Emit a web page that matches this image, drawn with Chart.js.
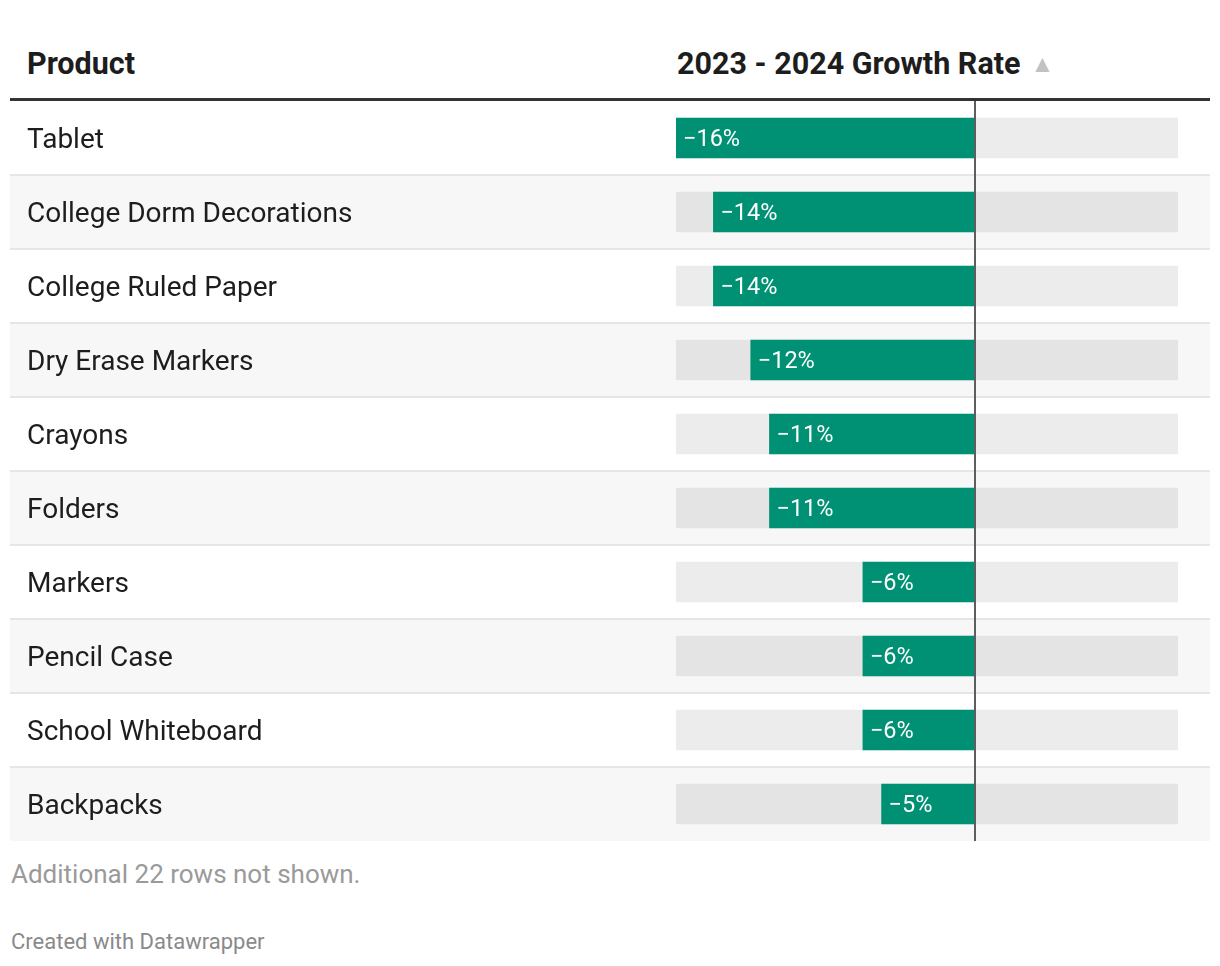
<!DOCTYPE html>
<html>
<head>
<meta charset="utf-8">
<script src="https://cdn.jsdelivr.net/npm/chart.js@4.4.1/dist/chart.umd.min.js"></script>
<style>
  body { margin: 0; background: #fff; font-family: Roboto, "Noto Sans", sans-serif; }
  .abs { position: absolute; white-space: nowrap; }
  .head { font-weight: 700; font-size: 30.5px; line-height: 30px; color: #1d1d1d; }
  .arrow { font-size: 24px; color: #c2c2c2; margin-left: 10px; vertical-align: 2px; font-weight: 400; }
  #rule { position: absolute; left: 10px; top: 98px; width: 1200px; height: 3px; background: #333; }
  #wrap { position: absolute; left: 10px; top: 101px; width: 1200px; height: 740px; }
  .note { font-size: 26px; line-height: 26px; color: #9a9a9a; }
  .credit { font-size: 22px; line-height: 22px; color: #8a8a8a; }
</style>
</head>
<body>
<div class="abs head" style="left:27px; top:49px;">Product</div>
<div class="abs head" style="left:677px; top:49px;">2023 - 2024 Growth Rate<span class="arrow">▲</span></div>
<div id="rule"></div>
<div id="wrap"><canvas id="growthChart"></canvas></div>
<div class="abs note" style="left:11px; top:861px;">Additional 22 rows not shown.</div>
<div class="abs credit" style="left:11px; top:931px;">Created with Datawrapper</div>

<script>
// rows as shown in the table (top to bottom)
var products = ["Tablet", "College Dorm Decorations", "College Ruled Paper", "Dry Erase Markers",
                "Crayons", "Folders", "Markers", "Pencil Case", "School Whiteboard", "Backpacks"];
var growthRate = [-16, -14, -14, -12, -11, -11, -6, -6, -6, -5];

// range of the grey background track
var AXIS_MIN = -16;
var AXIS_MAX = 10.86;

var trackData = products.map(function () { return [AXIS_MIN, AXIS_MAX]; });

function fmt(v) {
  return (v < 0 ? '\u2212' : '') + Math.abs(v) + '%';
}

// striped rows + separators (under the axis labels), zero line and value labels
var tablePlugin = {
  id: 'tableLook',
  beforeDraw: function (chart) {
    var ctx = chart.ctx, y = chart.scales.y;
    var rowH = y.getPixelForValue(1) - y.getPixelForValue(0);
    ctx.save();
    for (var i = 0; i < products.length; i++) {
      var cy = y.getPixelForValue(i);
      if (i % 2 === 1) {
        ctx.fillStyle = '#f7f7f7';
        ctx.fillRect(0, cy - rowH / 2, chart.width, rowH);
      }
      if (i > 0) {
        ctx.fillStyle = '#e6e6e6';
        ctx.fillRect(0, cy - rowH / 2 - 1, chart.width, 2);
      }
    }
    ctx.restore();
  },
  afterDatasetsDraw: function (chart) {
    var ctx = chart.ctx, x = chart.scales.x;
    ctx.save();
    var zx = Math.round(x.getPixelForValue(0));
    ctx.fillStyle = '#5e5e5e';
    ctx.fillRect(zx - 1, 0, 2, chart.height);

    var meta = chart.getDatasetMeta(0);
    ctx.font = '23.5px Roboto';
    ctx.fillStyle = '#ffffff';
    ctx.textBaseline = 'middle';
    ctx.textAlign = 'left';
    meta.data.forEach(function (bar, i) {
      var left = Math.min(bar.x, bar.base);
      ctx.fillText(fmt(growthRate[i]), left + 7, bar.y + 2);
    });
    ctx.restore();
  }
};

var ctx = document.getElementById('growthChart').getContext('2d');
var chart = new Chart(ctx, {
  type: 'bar',
  data: {
    labels: products,
    datasets: [{
      data: growthRate,
      backgroundColor: '#009174',
      borderWidth: 0,
      barThickness: 40,
      grouped: false,
      order: 1
    }, {
      data: trackData,
      backgroundColor: 'rgba(0,0,0,0.075)',
      borderWidth: 0,
      barThickness: 40,
      grouped: false,
      order: 2
    }]
  },
  options: {
    indexAxis: 'y',
    responsive: true,
    maintainAspectRatio: false,
    animation: false,
    layout: {
      padding: { left: 17, right: 32, top: 0, bottom: 0 }
    },
    plugins: {
      legend: { display: false },
      tooltip: { enabled: false }
    },
    scales: {
      x: {
        display: false,
        min: AXIS_MIN,
        max: AXIS_MAX
      },
      y: {
        grid: { display: false },
        border: { display: false },
        ticks: {
          autoSkip: false,
          crossAlign: 'far',
          labelOffset: 3,
          color: '#1d1d1d',
          font: { family: 'Roboto', size: 28 }
        },
        afterFit: function (scale) {
          scale.width = 649;
          scale.paddingTop = 0;
          scale.paddingBottom = 0;
        }
      }
    }
  },
  plugins: [tablePlugin]
});
</script>
</body>
</html>
